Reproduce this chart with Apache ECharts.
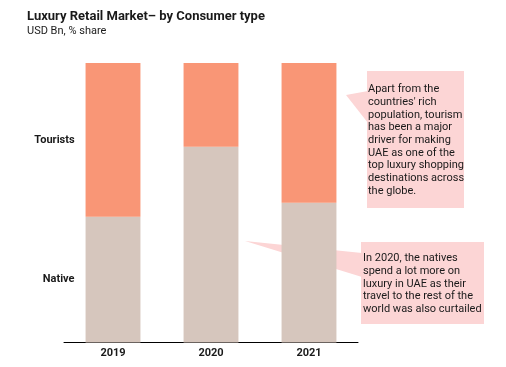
<!DOCTYPE html>
<html><head><meta charset="utf-8">
<script src="https://cdn.jsdelivr.net/npm/echarts@6/dist/echarts.min.js"></script>
<style>html,body{margin:0;padding:0;background:#fff}#c{width:506px;height:367px}</style>
</head><body><div id="c"></div>
<script>
var categories = ['2019', '2020', '2021'];
var seriesNames = ['Native', 'Tourists'];
var nativeShare = [45, 70, 50];
var touristShare = [55, 30, 50];
var titleText = 'Luxury Retail Market\u2013 by Consumer type';
var subtitleText = 'USD Bn, % share';
var note1 = "Apart from the\ncountries' rich\npopulation, tourism\nhas been a major\ndriver for making\nUAE as one of the\ntop luxury shopping\ndestinations across\nthe globe.";
var note2 = "In 2020, the natives\nspend a lot more on\nluxury in UAE as their\ntravel to the rest of the\nworld was also curtailed";

var font = 'Roboto';
function sideLabel(name) {
  return {
    show: true, position: 'left', distance: 11,
    fontFamily: font, fontWeight: 'bold', fontSize: 11, color: '#1a1a1a',
    formatter: function (p) { return p.dataIndex === 0 ? name : ''; }
  };
}
var chart = echarts.init(document.getElementById('c'), null, {renderer: 'canvas'});
chart.setOption({
  animation: false,
  title: {
    text: titleText, subtext: subtitleText, left: 27, top: 10, itemGap: 3, padding: 0,
    textStyle: {fontFamily: font, fontWeight: 'bold', fontSize: 13, color: '#1a1a1a'},
    subtextStyle: {fontFamily: font, fontSize: 11, color: '#1a1a1a'}
  },
  grid: {left: 64, right: 148, top: 63, bottom: 24.5},
  xAxis: {
    type: 'category', data: categories,
    axisLine: {lineStyle: {color: '#000', width: 1}},
    axisTick: {show: false},
    axisLabel: {fontFamily: font, fontWeight: 'bold', fontSize: 11, color: '#1a1a1a', margin: 5}
  },
  yAxis: {type: 'value', min: 0, max: 100, show: false, splitLine: {show: false}},
  series: [
    {name: seriesNames[0], type: 'bar', stack: 's', data: nativeShare, barWidth: '56%',
     itemStyle: {color: '#d6c6bd'}, label: sideLabel(seriesNames[0])},
    {name: seriesNames[1], type: 'bar', stack: 's', data: touristShare, barWidth: '56%',
     itemStyle: {color: '#f99676'}, label: sideLabel(seriesNames[1])}
  ],
  graphic: [
    {type: 'polygon', shape: {points: [[346, 95], [368, 91], [368, 123]]}, style: {fill: '#fcd5d5'}},
    {type: 'rect', shape: {x: 367, y: 71, width: 97, height: 137}, style: {fill: '#fcd5d5'}},
    {type: 'text', x: 368, y: 83, style: {text: note1, fontFamily: font, fontSize: 11, lineHeight: 12.7, fill: '#1a1a1a'}},
    {type: 'polygon', shape: {points: [[245, 241], [362, 253], [362, 277]]}, style: {fill: '#fcd5d5'}},
    {type: 'rect', shape: {x: 361, y: 242, width: 123, height: 82}, style: {fill: '#fcd5d5'}},
    {type: 'text', x: 363, y: 252, style: {text: note2, fontFamily: font, fontSize: 11, lineHeight: 12.7, fill: '#1a1a1a'}}
  ]
});
</script></body></html>
